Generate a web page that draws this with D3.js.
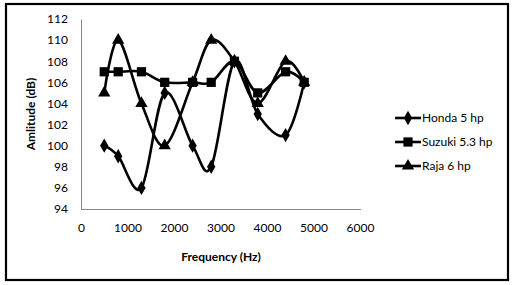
<!DOCTYPE html>
<html><head><meta charset="utf-8">
<script src="https://cdn.jsdelivr.net/npm/d3@7"></script>
<style>body{margin:0;background:#fff}svg{display:block}text{font-family:Lato,"Open Sans","Liberation Sans",sans-serif}</style>
</head><body><svg id="c" width="514" height="285"></svg>
<script>
const freq = [500, 800, 1300, 1800, 2400, 2800, 3300, 3800, 4400, 4800];
const honda = [100, 99, 96, 105, 100, 98, 108, 103, 101, 106];
const suzuki = [107, 107, 107, 106, 106, 106, 108, 105, 107, 106];
const raja = [105, 110, 104, 100, 106, 110, 108, 104, 108, 106];
const seriesNames = ["Honda 5 hp", "Suzuki 5.3 hp", "Raja 6 hp"];
const yTicks = [94, 96, 98, 100, 102, 104, 106, 108, 110, 112];
const xTicks = [0, 1000, 2000, 3000, 4000, 5000, 6000];

const svg = d3.select("#c");
svg.append("rect").attr("x", 6).attr("y", 4).attr("width", 502).attr("height", 276)
  .attr("fill", "#fff").attr("stroke", "#000").attr("stroke-width", 2.2);

const x = d3.scaleLinear().domain([0, 6000]).range([81, 360]);
const y = d3.scaleLinear().domain([94, 112]).range([209, 19]);

const yAx = svg.append("g").attr("transform", "translate(81,0)")
  .call(d3.axisLeft(y).tickValues(yTicks).tickFormat(d3.format("d")).tickSize(0).tickPadding(13));
const xAx = svg.append("g").attr("transform", "translate(0,209)")
  .call(d3.axisBottom(x).tickValues(xTicks).tickFormat(d3.format("d")).tickSize(0).tickPadding(14));
[yAx, xAx].forEach(g => {
  g.select(".domain").attr("stroke", "#868686").attr("stroke-width", 1);
  g.selectAll("text").attr("font-size", 12).attr("fill", "#000");
});
xAx.select(".domain").attr("d", "M81,0.5H361");

svg.append("text").attr("x", 221).attr("y", 261).attr("text-anchor", "middle")
  .attr("font-size", 12).attr("font-weight", "bold").text("Frequency (Hz)");
svg.append("text").attr("transform", "translate(35,114) rotate(-90)").attr("text-anchor", "middle")
  .attr("font-size", 12).attr("font-weight", "bold").text("Amlitude (dB)");

const line = d3.line().x(d => x(d[0])).y(d => y(d[1])).curve(d3.curveCardinal.tension(0));
const data = [honda, suzuki, raja];
const shapes = [d3.symbolDiamond, d3.symbolSquare, d3.symbolTriangle];
const sizes = [60, 85, 65];

data.forEach((vals, i) => {
  const pts = freq.map((f, j) => [f, vals[j]]);
  svg.append("path").attr("d", line(pts)).attr("fill", "none").attr("stroke", "#000").attr("stroke-width", 2.6);
});
data.forEach((vals, i) => {
  const sym = d3.symbol().type(shapes[i]).size(sizes[i]);
  svg.append("g").selectAll("path").data(freq.map((f, j) => [f, vals[j]])).join("path")
    .attr("transform", d => `translate(${x(d[0])},${y(d[1])})`)
    .attr("d", sym).attr("fill", "#000");
});

const ly = [118, 142, 166];
seriesNames.forEach((n, i) => {
  const g = svg.append("g");
  g.append("line").attr("x1", 395).attr("x2", 421).attr("y1", ly[i]).attr("y2", ly[i])
    .attr("stroke", "#000").attr("stroke-width", 2.6);
  g.append("path").attr("transform", `translate(408,${ly[i]})`)
    .attr("d", d3.symbol().type(shapes[i]).size(sizes[i])()).attr("fill", "#000");
  g.append("text").attr("x", 422).attr("y", ly[i]).attr("dy", "0.35em")
    .attr("font-size", 12).text(n);
});
</script></body></html>
